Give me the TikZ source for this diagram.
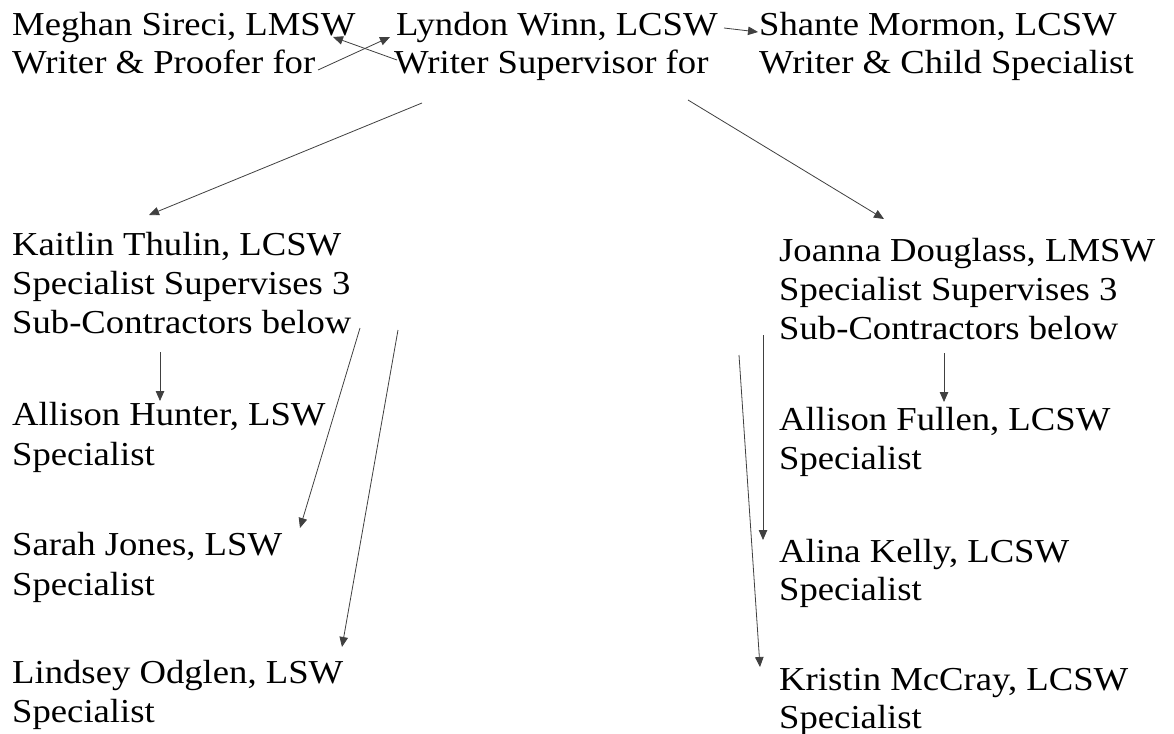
\documentclass[tikz,border=0pt]{standalone}
\usepackage{fontspec}
\setmainfont{Liberation Serif}[FakeStretch=1.095]
\usetikzlibrary{arrows.meta}
\begin{document}
\begin{tikzpicture}[x=1pt,y=-1pt,
  lbl/.style={anchor=base west, inner sep=0pt, font=\fontsize{33.5}{39}\selectfont},
  arr/.style={draw=black!75, line width=0.8pt, -{Triangle[length=10pt,width=8.5pt]}}]
\fill[white] (0,0) rectangle (1174,733);
\useasboundingbox (0,0) rectangle (1174,733);
% top row
\node[lbl] (meghanA) at (12,36) {Meghan Sireci, LMSW};
\node[lbl] (meghanB) at (12,74) {Writer \& Proofer for};
\node[lbl] (lyndonA) at (396,36) {Lyndon Winn, LCSW};
\node[lbl] (lyndonB) at (394,74) {Writer Supervisor for};
\node[lbl] (shanteA) at (759,36) {Shante Mormon, LCSW};
\node[lbl] (shanteB) at (759,74) {Writer \& Child Specialist};
% left column
\node[lbl] (kaitlinA) at (12,255) {Kaitlin Thulin, LCSW};
\node[lbl] (kaitlinB) at (12,294) {Specialist Supervises 3};
\node[lbl] (kaitlinC) at (12,333) {Sub-Contractors below};
\node[lbl] (hunterA) at (12,425) {Allison Hunter, LSW};
\node[lbl] (hunterB) at (12,465) {Specialist};
\node[lbl] (sarahA) at (12,555) {Sarah Jones, LSW};
\node[lbl] (sarahB) at (12,595) {Specialist};
\node[lbl] (lindseyA) at (12,683) {Lindsey Odglen, LSW};
\node[lbl] (lindseyB) at (12,722) {Specialist};
% right column
\node[lbl] (joannaA) at (779,261) {Joanna Douglass, LMSW};
\node[lbl] (joannaB) at (779,300) {Specialist Supervises 3};
\node[lbl] (joannaC) at (779,339) {Sub-Contractors below};
\node[lbl] (fullenA) at (779,430) {Allison Fullen, LCSW};
\node[lbl] (fullenB) at (779,469) {Specialist};
\node[lbl] (alinaA) at (779,562) {Alina Kelly, LCSW};
\node[lbl] (alinaB) at (779,600) {Specialist};
\node[lbl] (kristinA) at (779,690) {Kristin McCray, LCSW};
\node[lbl] (kristinB) at (779,728) {Specialist};
% connector end points
\coordinate (a1s) at (318,70);  \coordinate (a1e) at (390,37);
\coordinate (a2s) at (397,60);  \coordinate (a2e) at (333,37);
\coordinate (a3s) at (724,28);  \coordinate (a3e) at (758,32);
\coordinate (a4s) at (422,103); \coordinate (a4e) at (149,215);
\coordinate (a5s) at (688,100); \coordinate (a5e) at (884,219);
\coordinate (a6s) at (160,352); \coordinate (a6e) at (160,401);
\coordinate (a7s) at (360,328); \coordinate (a7e) at (300,528);
\coordinate (a8s) at (398,330); \coordinate (a8e) at (342,647);
\coordinate (a9s) at (944,353); \coordinate (a9e) at (944,402);
\coordinate (a10s) at (763,335); \coordinate (a10e) at (763,540);
\coordinate (a11s) at (739,355); \coordinate (a11e) at (760,667);
\draw[arr] (a1s) -- (a1e);
\draw[arr] (a2s) -- (a2e);
\draw[arr] (a3s) -- (a3e);
\draw[arr] (a4s) -- (a4e);
\draw[arr] (a5s) -- (a5e);
\draw[arr] (a6s) -- (a6e);
\draw[arr] (a7s) -- (a7e);
\draw[arr] (a8s) -- (a8e);
\draw[arr] (a9s) -- (a9e);
\draw[arr] (a10s) -- (a10e);
\draw[arr] (a11s) -- (a11e);
\end{tikzpicture}
\end{document}
